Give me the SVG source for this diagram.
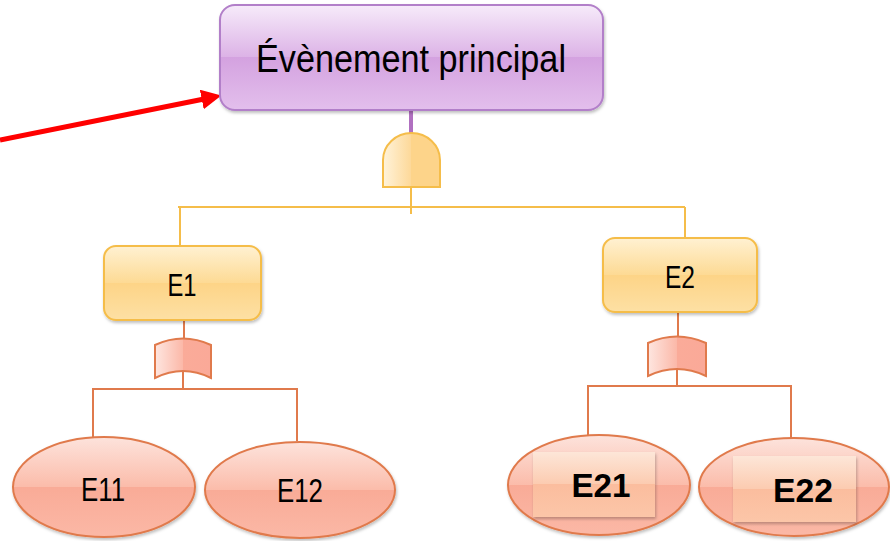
<svg xmlns="http://www.w3.org/2000/svg" width="890" height="541" viewBox="0 0 890 541">
<defs>
<linearGradient id="gPurple" x1="0" y1="0" x2="0" y2="1">
<stop offset="0" stop-color="#f6ebfa"/><stop offset="0.5" stop-color="#dcb2e6"/><stop offset="0.5" stop-color="#d4a2e0"/><stop offset="1" stop-color="#e3bfec"/>
</linearGradient>
<linearGradient id="gYellow" x1="0" y1="0" x2="0" y2="1">
<stop offset="0" stop-color="#fff1d2"/><stop offset="0.5" stop-color="#fdda94"/><stop offset="0.5" stop-color="#fdd487"/><stop offset="1" stop-color="#fde0a4"/>
</linearGradient>
<linearGradient id="gSalmon" x1="0" y1="0" x2="0" y2="1">
<stop offset="0" stop-color="#fde3dc"/><stop offset="0.5" stop-color="#fbbcaa"/><stop offset="0.5" stop-color="#f9ab97"/><stop offset="1" stop-color="#fbb8a6"/>
</linearGradient>
<linearGradient id="gLabel" x1="0" y1="0" x2="0" y2="1">
<stop offset="0" stop-color="#fde6d8"/><stop offset="0.5" stop-color="#fccbb0"/><stop offset="0.5" stop-color="#fbbd9e"/><stop offset="1" stop-color="#fcc6a8"/>
</linearGradient>
<linearGradient id="gAnd" x1="0" y1="0" x2="1" y2="0">
<stop offset="0" stop-color="#fff3da"/><stop offset="0.5" stop-color="#fdd898"/><stop offset="0.5" stop-color="#fdd48a"/><stop offset="1" stop-color="#fdd48a"/>
</linearGradient>
<linearGradient id="gOr" x1="0" y1="0" x2="1" y2="0">
<stop offset="0" stop-color="#fee6e0"/><stop offset="0.5" stop-color="#fbb8a8"/><stop offset="0.5" stop-color="#faab99"/><stop offset="1" stop-color="#faa998"/>
</linearGradient>
<filter id="sh" x="-10%" y="-10%" width="120%" height="130%">
<feDropShadow dx="1" dy="2" stdDeviation="1.5" flood-color="#000" flood-opacity="0.25"/>
</filter>
<marker id="arr" markerWidth="4" markerHeight="4" refX="2.5" refY="2" orient="auto" markerUnits="strokeWidth">
<path d="M0,0 L4,2 L0,4 Z" fill="#ff0000"/>
</marker>
</defs>
<style>
.txt{font-family:"Liberation Sans",Arial,sans-serif;fill:#000;text-anchor:middle}
.bold{font-weight:bold}
.lnY{stroke:#f5bd4a;stroke-width:2;fill:none}
.lnO{stroke:#e07a4c;stroke-width:2;fill:none}
.boxY{fill:url(#gYellow);stroke:#f5bd4a;stroke-width:2}
.ell{fill:url(#gSalmon);stroke:#e07a4c;stroke-width:2}
.orGate{fill:url(#gOr);stroke:#e07a4c;stroke-width:2}
</style>

<g id="connectors">
<line x1="411" y1="110" x2="411" y2="134" stroke="#b070c0" stroke-width="4"/>
<line class="lnY" x1="411" y1="187" x2="411" y2="214"/>
<line class="lnY" x1="178" y1="207" x2="685" y2="207"/>
<line class="lnY" x1="180" y1="207" x2="180" y2="246"/>
<line class="lnY" x1="685" y1="207" x2="685" y2="238"/>
<line class="lnO" x1="184" y1="320" x2="184" y2="339"/>
<line class="lnO" x1="183" y1="371" x2="183" y2="389"/>
<line class="lnO" x1="92" y1="389" x2="298" y2="389"/>
<line class="lnO" x1="93" y1="389" x2="93" y2="437"/>
<line class="lnO" x1="297" y1="389" x2="297" y2="441"/>
<line class="lnO" x1="678" y1="312" x2="678" y2="337"/>
<line class="lnO" x1="677" y1="369" x2="677" y2="386"/>
<line class="lnO" x1="587" y1="386" x2="792" y2="386"/>
<line class="lnO" x1="588" y1="386" x2="588" y2="435"/>
<line class="lnO" x1="791" y1="386" x2="791" y2="438"/>
<line x1="0" y1="140" x2="214" y2="97" stroke="#ff0000" stroke-width="5" marker-end="url(#arr)"/>
</g>

<g id="top">
<rect x="220" y="5" width="383" height="105" rx="15" fill="url(#gPurple)" stroke="#b27fc9" stroke-width="2" filter="url(#sh)"/>
<text class="txt" x="411" y="72" font-size="38" textLength="310" lengthAdjust="spacingAndGlyphs">Évènement principal</text>
</g>

<g id="gateTop">
<path d="M383,187 L383,160 A28.5,27 0 0 1 440,160 L440,187 Z" fill="url(#gAnd)" stroke="#f5bd4a" stroke-width="2"/>
</g>

<g id="E1">
<rect x="104" y="246" width="157" height="74" rx="12" class="boxY" filter="url(#sh)"/>
<text class="txt" x="182" y="296" font-size="32" textLength="29" lengthAdjust="spacingAndGlyphs">E1</text>
</g>

<g id="E2">
<rect x="603" y="238" width="154" height="74" rx="12" class="boxY" filter="url(#sh)"/>
<text class="txt" x="680" y="288" font-size="32" textLength="30" lengthAdjust="spacingAndGlyphs">E2</text>
</g>

<g id="gateE1">
<path class="orGate" d="M155,345 Q183,332 211,345 L211,378 Q183,364 155,378 Z"/>
</g>

<g id="gateE2">
<path class="orGate" d="M648,343 Q677,330 706,343 L706,376 Q677,362 648,376 Z"/>
</g>

<g id="E11">
<ellipse cx="104" cy="487" rx="91" ry="50" class="ell" filter="url(#sh)"/>
<text class="txt" x="103" y="501" font-size="34" textLength="44" lengthAdjust="spacingAndGlyphs">E11</text>
</g>

<g id="E12">
<ellipse cx="300" cy="490" rx="95" ry="48" class="ell" filter="url(#sh)"/>
<text class="txt" x="300" y="502" font-size="34" textLength="46" lengthAdjust="spacingAndGlyphs">E12</text>
</g>

<g id="E21">
<ellipse cx="599" cy="485" rx="91" ry="50" class="ell" filter="url(#sh)"/>
<rect x="533" y="452" width="122" height="65" fill="url(#gLabel)" filter="url(#sh)"/>
<text class="txt bold" x="601" y="497" font-size="33" textLength="59" lengthAdjust="spacingAndGlyphs">E21</text>
</g>

<g id="E22">
<ellipse cx="794" cy="487" rx="95" ry="49" class="ell" filter="url(#sh)"/>
<rect x="733" y="456" width="123" height="66" fill="url(#gLabel)" filter="url(#sh)"/>
<text class="txt bold" x="803" y="502" font-size="33" textLength="60" lengthAdjust="spacingAndGlyphs">E22</text>
</g>
</svg>
